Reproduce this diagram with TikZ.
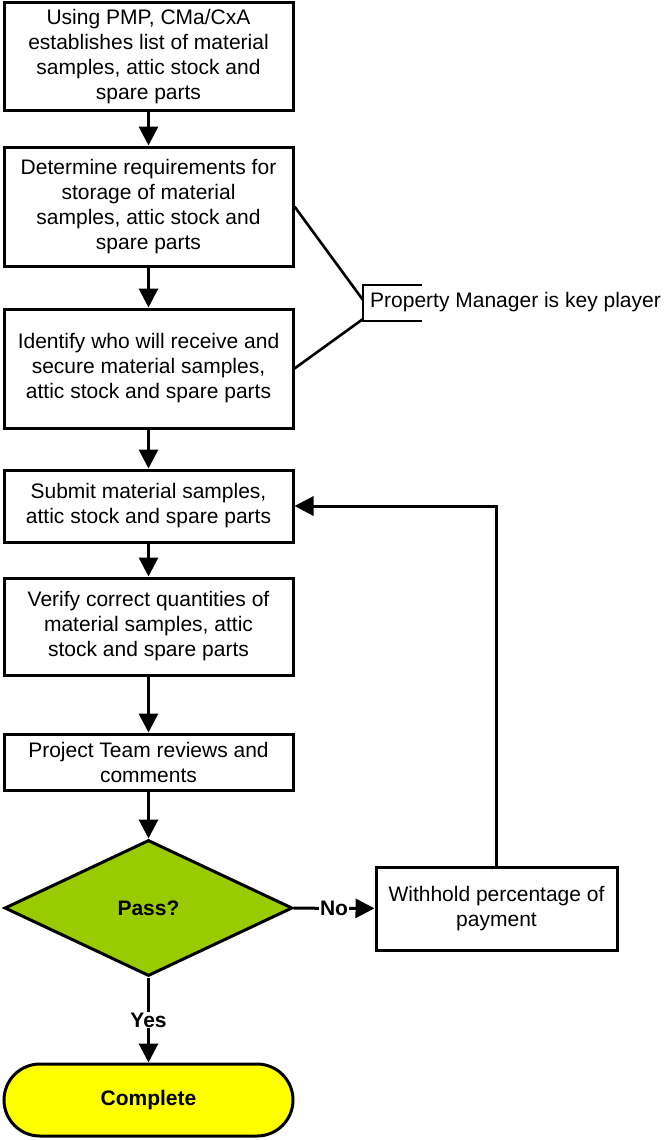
\documentclass[tikz,border=0pt]{standalone}
\usepackage{fontspec}
\setmainfont{Liberation Sans}
\usetikzlibrary{arrows.meta,shapes.geometric,shapes.misc}
\definecolor{passgreen}{HTML}{99CC00}
\definecolor{doneyellow}{HTML}{FFFF00}
\begin{document}
\begin{tikzpicture}[x=1pt,y=-1pt,
  font=\fontsize{21}{25}\selectfont,
  stepbox/.style={draw,line width=3pt,rectangle,minimum width=289pt,align=center,inner sep=0pt},
  conn/.style={line width=3pt,-{Triangle[length=19pt,width=19pt]}},
  thin/.style={line width=2.6pt},
  lbl/.style={font=\fontsize{21}{25}\selectfont\bfseries,fill=white,inner sep=1pt}]
\useasboundingbox (0,0) rectangle (665,1140);
\node[stepbox,minimum height=107pt] (b1) at (148.5,56.5) {Using PMP, CMa/CxA\\establishes list of material\\samples, attic stock and\\spare parts};
\node[stepbox,minimum height=119pt] (b2) at (148.5,206.5) {Determine requirements for\\storage of material\\samples, attic stock and\\spare parts};
\node[stepbox,minimum height=119pt] (b3) at (148.5,368.5) {Identify who will receive and\\secure material samples,\\attic stock and spare parts};
\node[stepbox,minimum height=72pt] (b4) at (148.5,506) {Submit material samples,\\attic stock and spare parts};
\node[stepbox,minimum height=97pt] (b5) at (148.5,626.5) {Verify correct quantities of\\material samples, attic\\stock and spare parts};
\node[stepbox,minimum height=56pt] (b6) at (148.5,762) {Project Team reviews and\\comments};
\node[draw,line width=3pt,diamond,fill=passgreen,minimum width=288pt,minimum height=136pt,inner sep=0pt,font=\fontsize{21}{25}\selectfont\bfseries] (d) at (148.5,908) {Pass?};
\node[stepbox,minimum width=241pt,minimum height=83pt] (wh) at (496.5,908.5) {Withhold percentage of\\payment};
\node[draw,line width=3pt,rounded rectangle,fill=doneyellow,minimum width=289pt,minimum height=72pt,inner sep=0pt,font=\fontsize{21}{25}\selectfont\bfseries] (done) at (148.5,1100) {Complete};
\node[anchor=west,inner sep=0pt] (pm) at (370,302) {Property Manager is key player};
\coordinate (br1) at (363,300);
\coordinate (br2) at (363,319);
\draw[thin] (422,285) -- (363,285) -- (363,321) -- (422,321);
\draw[thin] (b2.east) -- (br1);
\draw[thin] (b3.east) -- (br2);
\draw[conn] (b1) -- (b2);
\draw[conn] (b2) -- (b3);
\draw[conn] (b3) -- (b4);
\draw[conn] (b4) -- (b5);
\draw[conn] (b5) -- (b6);
\draw[conn] (b6) -- (d);
\draw[conn] (d) -- node[lbl] {No} (wh);
\draw[conn] (d) -- node[lbl] {Yes} (done);
\draw[conn] (wh.north) |- (b4.east);
\end{tikzpicture}
\end{document}
